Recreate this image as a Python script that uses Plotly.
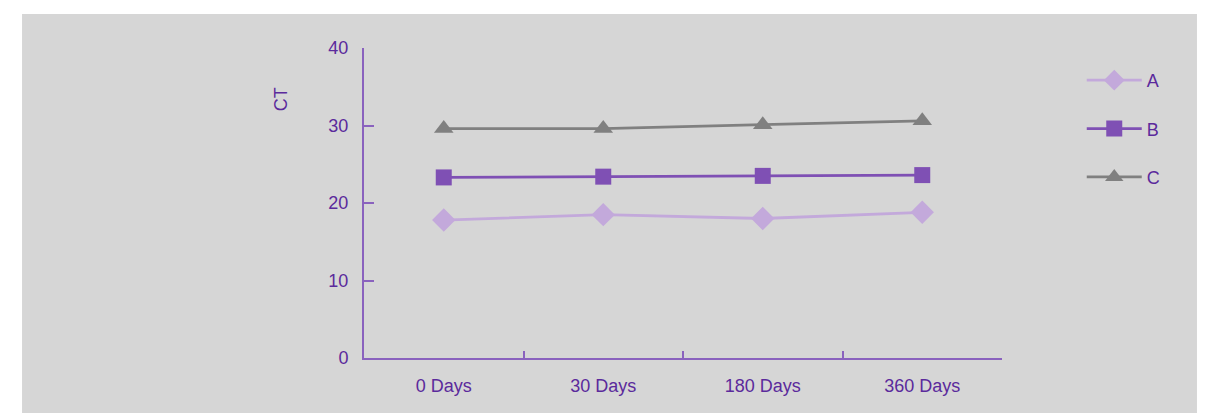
import plotly.graph_objects as go

# Storage time points and CT values per sample
days = ["0 Days", "30 Days", "180 Days", "360 Days"]
series_a = [17.8, 18.5, 18.0, 18.8]
series_b = [23.3, 23.4, 23.5, 23.6]
series_c = [29.6, 29.6, 30.1, 30.6]
y_ticks = [0, 10, 20, 30, 40]

FONT = "Liberation Sans Narrow, Arial Narrow, Liberation Sans, Arial, sans-serif"
TEXT = "#5B2A9C"
AXIS = "#8A62BE"
PANEL = "#D6D6D6"

fig = go.Figure()

styles = [
    ("A", series_a, "#C3A9DB", "diamond", 18),
    ("B", series_b, "#7F50B4", "square", 16),
    ("C", series_c, "#808080", "triangle-up", 17),
]
for name, vals, color, symbol, size in styles:
    fig.add_trace(go.Scatter(
        x=days, y=vals, name=name, mode="lines+markers",
        line=dict(color=color, width=2.8),
        marker=dict(symbol=symbol, size=size, color=color, line=dict(width=0)),
        legendgroup=name,
    ))

fig.update_layout(
    width=1210, height=413,
    margin=dict(l=364, r=208, t=48, b=55, pad=0),
    paper_bgcolor="white",
    plot_bgcolor="rgba(0,0,0,0)",
    font=dict(family=FONT, color=TEXT, size=18),
    showlegend=True,
    legend=dict(
        x=1.125, y=0.955, xanchor="left", yanchor="top",
        traceorder="grouped", tracegroupgap=22, itemwidth=55,
        font=dict(size=18, color=TEXT, family=FONT),
        bgcolor="rgba(0,0,0,0)",
    ),
    shapes=[dict(
        type="rect", xref="paper", yref="paper",
        x0=-0.536, x1=1.3056, y0=-0.18, y1=1.1097,
        fillcolor=PANEL, line=dict(width=0), layer="below",
    )],
    annotations=[dict(
        text="CT", xref="paper", yref="paper",
        x=-0.13, y=0.835, xanchor="center", yanchor="middle",
        textangle=-90, showarrow=False,
        font=dict(size=18, color=TEXT, family=FONT),
    )],
)

fig.update_xaxes(
    type="category", range=[-0.5, 3.5],
    showline=True, linecolor=AXIS, linewidth=2,
    showgrid=False, zeroline=False,
    ticks="inside", tickson="boundaries", ticklen=7, tickcolor=AXIS, tickwidth=1.5,
    tickfont=dict(size=18, color=TEXT, family=FONT),
    ticklabelstandoff=10,
)
fig.update_yaxes(
    range=[0, 40], tickvals=y_ticks,
    showline=True, linecolor=AXIS, linewidth=2,
    showgrid=False, zeroline=False,
    ticks="inside", ticklen=10, tickcolor=AXIS, tickwidth=1.5,
    tickfont=dict(size=18, color=TEXT, family=FONT),
    ticklabelstandoff=10,
)

fig.write_html("out.html")
